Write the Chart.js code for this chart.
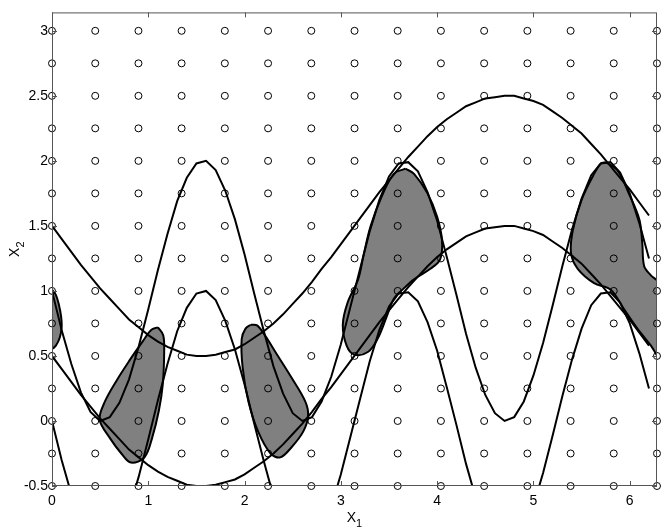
<!DOCTYPE html>
<html>
<head>
<meta charset="utf-8">
<script src="https://cdn.jsdelivr.net/npm/chart.js@4.4.1/dist/chart.umd.min.js"></script>
<style>
  html, body { margin: 0; padding: 0; background: #fff; }
  #wrap { width: 662px; height: 529px; }
</style>
</head>
<body>
<div id="wrap"><canvas id="plot" width="662" height="529"></canvas></div>
<script>
// axis ticks
const xTicks = [0, 1, 2, 3, 4, 5, 6];
const xTickLabels = ['0', '1', '2', '3', '4', '5', '6'];
const yTicks = [-0.5, 0, 0.5, 1, 1.5, 2, 2.5, 3];
const yTickLabels = ['-0.5', '0', '0.5', '1', '1.5', '2', '2.5', '3'];
const xTitle = ['X', '1'];
const yTitle = ['X', '2'];

// sample grid (circles)
const gridX = [0, 0.449, 0.898, 1.346, 1.795, 2.244, 2.693, 3.142, 3.590, 4.039, 4.488, 4.937, 5.386, 5.834, 6.283];
const gridY = [-0.5, -0.25, 0, 0.25, 0.5, 0.75, 1, 1.25, 1.5, 1.75, 2, 2.25, 2.5, 2.75, 3];

// boundary curves, read at x1 = 0 ... 6.2
const curveX = [0.0,0.1,0.2,0.3,0.4,0.5,0.6,0.7,0.8,0.9,1.0,1.1,1.2,1.3,1.4,1.5,1.6,1.7,1.8,1.9,2.0,2.1,2.2,2.3,2.4,2.5,2.6,2.7,2.8,2.9,3.0,3.1,3.2,3.3,3.4,3.5,3.6,3.7,3.8,3.9,4.0,4.1,4.2,4.3,4.4,4.5,4.6,4.7,4.8,4.9,5.0,5.1,5.2,5.3,5.4,5.5,5.6,5.7,5.8,5.9,6.0,6.1,6.2];
const upperWave = [1.50,1.40,1.30,1.20,1.11,1.02,0.94,0.86,0.78,0.72,
  0.66,0.61,0.57,0.54,0.51,0.50,0.50,0.51,0.53,0.55,
  0.59,0.64,0.69,0.75,0.82,0.90,0.98,1.07,1.17,1.26,
  1.36,1.46,1.56,1.66,1.76,1.85,1.94,2.03,2.11,2.19,
  2.26,2.32,2.37,2.42,2.45,2.48,2.49,2.50,2.50,2.48,
  2.46,2.43,2.38,2.33,2.27,2.21,2.13,2.05,1.96,1.87,
  1.78,1.68,1.58];
const lowerWave = [0.50,0.40,0.30,0.20,0.11,0.02,-0.06,-0.14,-0.22,-0.28,
  -0.34,-0.39,-0.43,-0.46,-0.49,-0.50,-0.50,-0.49,-0.47,-0.45,
  -0.41,-0.36,-0.31,-0.25,-0.18,-0.10,-0.02,0.07,0.17,0.26,
  0.36,0.46,0.56,0.66,0.76,0.85,0.94,1.03,1.11,1.19,
  1.26,1.32,1.37,1.42,1.45,1.48,1.49,1.50,1.50,1.48,
  1.46,1.43,1.38,1.33,1.27,1.21,1.13,1.05,0.96,0.87,
  0.78,0.68,0.58];
const upperFast = [1.00,0.70,0.44,0.22,0.07,0.00,0.03,0.14,0.32,0.57,
  0.86,1.16,1.44,1.69,1.87,1.98,2.00,1.93,1.77,1.55,
  1.28,0.98,0.69,0.42,0.21,0.06,0.00,0.03,0.15,0.34,
  0.59,0.88,1.17,1.46,1.70,1.88,1.98,1.99,1.92,1.76,
  1.54,1.26,0.97,0.67,0.41,0.20,0.06,0.00,0.03,0.15,
  0.35,0.60,0.89,1.19,1.47,1.71,1.89,1.98,1.99,1.91,
  1.75,1.52,1.25];
const lowerFast = [0.00,-0.30,-0.56,-0.78,-0.93,-1.00,-0.97,-0.86,-0.68,-0.43,
  -0.14,0.16,0.44,0.69,0.87,0.98,1.00,0.93,0.77,0.55,
  0.28,-0.02,-0.31,-0.58,-0.79,-0.94,-1.00,-0.97,-0.85,-0.66,
  -0.41,-0.12,0.17,0.46,0.70,0.88,0.98,0.99,0.92,0.76,
  0.54,0.26,-0.03,-0.33,-0.59,-0.80,-0.94,-1.00,-0.97,-0.85,
  -0.65,-0.40,-0.11,0.19,0.47,0.71,0.89,0.98,0.99,0.91,
  0.75,0.52,0.25];

// gray regions (outlines)
const blob1X = [0.00, 0.04, 0.07, 0.095, 0.10, 0.08, 0.04, 0.00, 0.00];
const blob1Y = [1.01, 0.97, 0.90, 0.80, 0.72, 0.64, 0.58, 0.56, 1.01];
const blob2X = [1.10, 1.155, 1.165, 1.15, 1.11, 1.04, 0.96, 0.82, 0.72, 0.60, 0.495, 0.55, 0.67, 0.80, 0.94, 1.03, 1.10];
const blob2Y = [0.72, 0.66, 0.53, 0.28, 0.08, -0.13, -0.28, -0.32, -0.25, -0.13, 0.01, 0.15, 0.31, 0.46, 0.61, 0.70, 0.72];
const blob3X = [2.065, 2.13, 2.21, 2.32, 2.49, 2.63, 2.66, 2.61, 2.49, 2.37, 2.27, 2.14, 2.04, 1.98, 1.97, 2.01, 2.065];
const blob3Y = [0.74, 0.735, 0.66, 0.53, 0.33, 0.15, 0.04, -0.08, -0.20, -0.28, -0.25, -0.08, 0.15, 0.41, 0.63, 0.71, 0.74];
const blob4X = [3.67, 3.76, 3.90, 4.00, 4.05, 4.03, 3.93, 3.76, 3.64, 3.55, 3.47, 3.38, 3.28, 3.14, 3.06, 3.02, 3.07, 3.18, 3.24, 3.31, 3.42, 3.55, 3.67];
const blob4Y = [1.94, 1.90, 1.75, 1.57, 1.39, 1.24, 1.17, 1.09, 1.01, 0.94, 0.79, 0.63, 0.53, 0.51, 0.58, 0.74, 0.91, 1.09, 1.29, 1.50, 1.72, 1.90, 1.94];
const blob5X = [5.75, 5.87, 5.99, 6.10, 6.13, 6.15, 6.22, 6.30, 6.33, 6.30, 6.22, 6.08, 5.94, 5.80, 5.63, 5.46, 5.39, 5.41, 5.50, 5.63, 5.70, 5.75];
const blob5Y = [1.99, 1.93, 1.75, 1.55, 1.37, 1.19, 1.12, 1.06, 0.80, 0.50, 0.58, 0.71, 0.86, 1.01, 1.06, 1.17, 1.29, 1.47, 1.70, 1.90, 1.98, 1.99];

const toPoints = (xs, ys) => xs.map((v, i) => ({x: v, y: ys[i]}));

const gridPoints = [];
gridX.forEach(gx => gridY.forEach(gy => gridPoints.push({x: gx, y: gy})));

const family = '"Liberation Sans", Arial, Helvetica, sans-serif';
const font = {family, size: 14};

const curveStyle = {
  showLine: true, borderColor: '#000', borderWidth: 2, pointRadius: 0,
  tension: 0, fill: false, order: 1
};
const blobStyle = {
  showLine: true, borderColor: '#000', borderWidth: 2, pointRadius: 0,
  backgroundColor: '#808080', fill: 'shape', tension: 0.35, order: 2
};

// box, inward tick marks and subscripted axis titles
const frame = {
  id: 'frame',
  afterDatasetsDraw(chart) {
    const {ctx, chartArea: a, scales: {x, y}} = chart;
    ctx.save();
    ctx.strokeStyle = '#555';
    ctx.lineWidth = 1;
    ctx.strokeRect(a.left + 0.5, a.top + 0.5, a.right - a.left - 1, a.bottom - a.top - 1);
    ctx.beginPath();
    xTicks.forEach(v => {
      const px = Math.round(x.getPixelForValue(v)) + 0.5;
      ctx.moveTo(px, a.bottom); ctx.lineTo(px, a.bottom - 5);
      ctx.moveTo(px, a.top); ctx.lineTo(px, a.top + 5);
    });
    yTicks.forEach(v => {
      const py = Math.round(y.getPixelForValue(v)) + 0.5;
      ctx.moveTo(a.left, py); ctx.lineTo(a.left + 5, py);
      ctx.moveTo(a.right, py); ctx.lineTo(a.right - 5, py);
    });
    ctx.stroke();

    ctx.fillStyle = '#000';
    ctx.textBaseline = 'alphabetic';
    ctx.textAlign = 'left';
    const drawTitle = (parts) => {
      ctx.font = '14px ' + family;
      const w1 = ctx.measureText(parts[0]).width;
      ctx.font = '11px ' + family;
      const w2 = ctx.measureText(parts[1]).width;
      ctx.font = '14px ' + family;
      ctx.fillText(parts[0], -(w1 + w2) / 2, 0);
      ctx.font = '11px ' + family;
      ctx.fillText(parts[1], -(w1 + w2) / 2 + w1, 5);
    };
    ctx.save();
    ctx.translate((a.left + a.right) / 2, 522);
    drawTitle(xTitle);
    ctx.restore();
    ctx.save();
    ctx.translate(19, (a.top + a.bottom) / 2);
    ctx.rotate(-Math.PI / 2);
    drawTitle(yTitle);
    ctx.restore();
    ctx.restore();
  }
};

new Chart(document.getElementById('plot'), {
  type: 'line',
  data: {
    datasets: [
      {data: gridPoints, showLine: false, pointStyle: 'circle', pointRadius: 3.5,
       pointBorderWidth: 1, pointBorderColor: '#000', pointBackgroundColor: 'rgba(0,0,0,0)',
       clip: false, order: 0},
      {...curveStyle, data: toPoints(curveX, upperWave)},
      {...curveStyle, data: toPoints(curveX, lowerWave)},
      {...curveStyle, data: toPoints(curveX, upperFast)},
      {...curveStyle, data: toPoints(curveX, lowerFast)},
      {...blobStyle, data: toPoints(blob1X, blob1Y)},
      {...blobStyle, data: toPoints(blob2X, blob2Y)},
      {...blobStyle, data: toPoints(blob3X, blob3Y)},
      {...blobStyle, data: toPoints(blob4X, blob4Y)},
      {...blobStyle, data: toPoints(blob5X, blob5Y)}
    ]
  },
  options: {
    responsive: false,
    animation: false,
    devicePixelRatio: 1,
    layout: {padding: {top: 6, right: 0, left: 0, bottom: 0}},
    plugins: {legend: {display: false}, tooltip: {enabled: false}},
    scales: {
      x: {
        type: 'linear', min: 0, max: 6.2832,
        grid: {display: false, drawTicks: false}, border: {display: false},
        afterBuildTicks: axis => { axis.ticks = xTicks.map(v => ({value: v})); },
        afterFit: axis => { axis.height = 43; },
        ticks: {color: '#000', font, padding: 7, maxRotation: 0,
                callback: (v, i) => xTickLabels[i]}
      },
      y: {
        type: 'linear', min: -0.5, max: 3.1416,
        grid: {display: false, drawTicks: false}, border: {display: false},
        afterBuildTicks: axis => { axis.ticks = yTicks.map(v => ({value: v})); },
        afterFit: axis => { axis.width = 52; },
        ticks: {color: '#000', font, padding: 4,
                callback: (v, i) => yTickLabels[i]}
      }
    }
  },
  plugins: [frame]
});
</script>
</body>
</html>
